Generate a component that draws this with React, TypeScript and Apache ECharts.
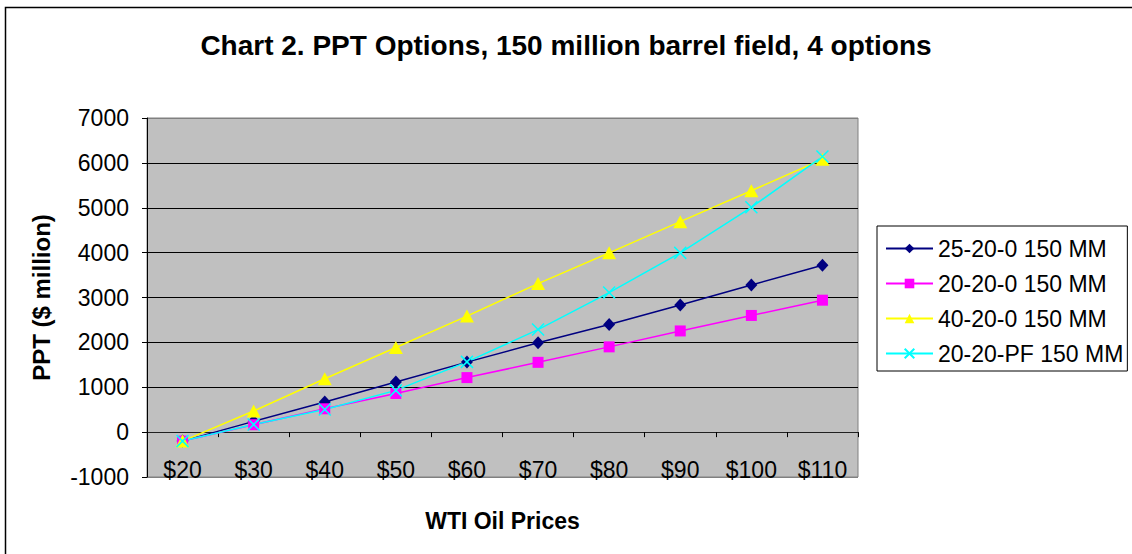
import React, { useEffect, useRef } from "react";
import * as echarts from "echarts";

const categories = ["$20", "$30", "$40", "$50", "$60", "$70", "$80", "$90", "$100", "$110"];
const seriesNames = ["25-20-0 150 MM", "20-20-0 150 MM", "40-20-0 150 MM", "20-20-PF 150 MM"];
const s25_20_0 = [-200, 240, 670, 1115, 1560, 1990, 2400, 2835, 3280, 3720];
const s20_20_0 = [-200, 165, 520, 860, 1215, 1555, 1900, 2255, 2600, 2940];
const s40_20_0 = [-200, 470, 1190, 1885, 2585, 3310, 3995, 4690, 5380, 6080];
const s20_20_PF = [-200, 170, 505, 930, 1565, 2285, 3110, 3995, 5010, 6140];
const yTicks = { min: -1000, max: 7000, interval: 1000 };

const FONT = "'Liberation Sans', Arial, sans-serif";
const CROSS = "path://M0,0 L10,10 M10,0 L0,10";

export default function App() {
  const ref = useRef<HTMLDivElement>(null);
  useEffect(() => {
    if (!ref.current) return;
    const chart = echarts.init(ref.current, null, { renderer: "svg" });
    const mk = (name: string, data: number[], color: string, symbol: string, size: number | number[], bw = 0) => ({
      name,
      type: "line",
      data,
      symbol,
      symbolSize: size,
      lineStyle: { color, width: 1.5 },
      itemStyle: { color, borderColor: color, borderWidth: bw },
      emphasis: { disabled: true },
    });
    chart.setOption({
      animation: false,
      backgroundColor: "#ffffff",
      textStyle: { fontFamily: FONT },
      title: {
        text: "Chart 2. PPT Options, 150 million barrel field, 4 options",
        left: "center",
        top: 26,
        textStyle: { fontFamily: FONT, fontSize: 28, fontWeight: "bold", color: "#000" },
      },
      legend: {
        orient: "vertical",
        left: 877,
        top: 226,
        width: 252,
        padding: [11, 4, 6, 8],
        itemGap: 12,
        itemWidth: 47,
        itemHeight: 12,
        borderColor: "#000",
        borderWidth: 1,
        backgroundColor: "#ffffff",
        textStyle: { fontFamily: FONT, fontSize: 23, color: "#000", padding: [0, 0, 0, 0] },
        data: seriesNames,
      },
      grid: {
        left: 147,
        right: 274,
        top: 118,
        bottom: 77,
        outerBoundsMode: "none",
        containLabel: false,
        show: true,
        backgroundColor: "#c0c0c0",
        borderColor: "#808080",
        borderWidth: 1,
      },
      xAxis: {
        type: "category",
        data: categories,
        boundaryGap: true,
        name: "WTI Oil Prices",
        nameLocation: "middle",
        nameGap: 32,
        nameTextStyle: { fontFamily: FONT, fontSize: 23, fontWeight: "bold", color: "#000" },
        axisLine: { onZero: true, lineStyle: { color: "#202020", width: 1 } },
        axisTick: { show: true, inside: false, length: 5, interval: 0, lineStyle: { color: "#000" } },
        axisLabel: { margin: -19, fontFamily: FONT, fontSize: 23, color: "#000", interval: 0 },
        splitLine: { show: false },
      },
      yAxis: {
        type: "value",
        min: yTicks.min,
        max: yTicks.max,
        interval: yTicks.interval,
        name: "PPT ($ million)",
        nameLocation: "middle",
        nameRotate: 90,
        nameGap: 94,
        nameTextStyle: { fontFamily: FONT, fontSize: 24, fontWeight: "bold", color: "#000" },
        axisLine: { show: true, lineStyle: { color: "#000", width: 1 } },
        axisTick: { show: true, inside: false, length: 5, lineStyle: { color: "#000" } },
        axisLabel: { margin: 18, fontFamily: FONT, fontSize: 23, color: "#000", formatter: (v: number) => String(v) },
        splitLine: {
          show: true,
          lineStyle: {
            color: ["#808080", "#000", "#000", "#000", "#000", "#000", "#000", "#000", "#808080"],
            width: 1,
          },
        },
      },
      graphic: [
        {
          type: "rect",
          shape: { x: 5.5, y: 7.5, width: 1200, height: 700 },
          style: { fill: "none", stroke: "#000", lineWidth: 1.5 },
          silent: true,
          z: 100,
        },
      ],
      series: [
        mk(seriesNames[0], s25_20_0, "#000080", "diamond", [12, 13]),
        mk(seriesNames[1], s20_20_0, "#ff00ff", "rect", 11),
        mk(seriesNames[2], s40_20_0, "#ffff00", "triangle", [14, 13]),
        mk(seriesNames[3], s20_20_PF, "#00ffff", CROSS, 12, 1.5),
      ],
    });
    return () => chart.dispose();
  }, []);
  return <div ref={ref} style={{ position: "fixed", left: 0, top: 0, width: 1132, height: 554 }} />;
}
